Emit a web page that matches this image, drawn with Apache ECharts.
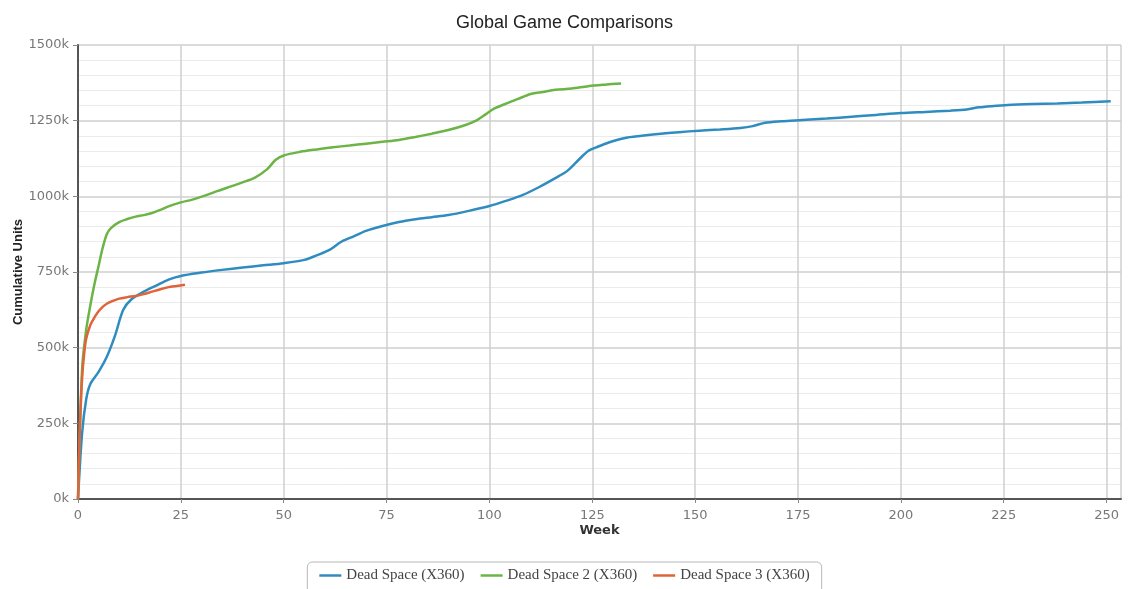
<!DOCTYPE html>
<html>
<head>
<meta charset="utf-8">
<script src="https://cdn.jsdelivr.net/npm/echarts@6/dist/echarts.min.js"></script>
<style>html,body{margin:0;padding:0;background:#fff}#c{width:1129px;height:589px}</style>
</head>
<body>
<div id="c"></div>
<script>
// Dead Space (X360) — weeks and cumulative units (thousands)
var ds1Weeks = [0,1,2,3,5,7,9,11,13,16,19,22,25,30,35,40,45,50,55,58,61,64,67,70,74,78,82,86,90,95,100,104,108,112,116,119,122,124,126,129,133,137,141,146,151,156,161,164,167,171,176,182,188,194,200,206,212,216,219,222,226,232,238,244,251];
var ds1Values = [0,218,330,380,420,470,540,625,660,685,705,725,737,748,757,765,772,779,790,805,822,850,868,886,902,915,924,931,938,952,968,985,1004,1030,1060,1085,1125,1150,1162,1178,1193,1200,1206,1212,1217,1221,1226,1232,1243,1248,1252,1257,1263,1269,1275,1279,1283,1287,1294,1298,1302,1305,1307,1310,1314];
// Dead Space 2 (X360)
var ds2Weeks = [0,1,2,3,4,5,6,7,8,10,12,14,16,18,20,22,25,28,31,34,37,40,43,46,48,50,54,58,62,66,70,74,78,82,86,90,94,97,99,101,104,107,110,113,116,120,124,128,132];
var ds2Values = [0,430,560,640,710,770,830,875,895,915,925,933,938,945,955,967,980,990,1003,1018,1032,1046,1062,1090,1120,1135,1147,1155,1162,1168,1174,1180,1186,1196,1207,1219,1235,1252,1270,1289,1306,1322,1338,1345,1352,1356,1364,1369,1373];
// Dead Space 3 (X360)
var ds3Weeks = [0,0.5,1,1.5,2,3,4,5,6,7,8,10,12,14,16,18,20,22,24,26];
var ds3Values = [0,250,400,480,530,575,600,620,635,645,652,662,667,671,677,685,693,700,704,708];

var seriesNames = ['Dead Space (X360)', 'Dead Space 2 (X360)', 'Dead Space 3 (X360)'];
var seriesColors = ['#2f8cc0', '#6cb446', '#e0643a'];

function pairs(w, v) { return w.map(function (x, i) { return [x, v[i]]; }); }
var allData = [pairs(ds1Weeks, ds1Values), pairs(ds2Weeks, ds2Values), pairs(ds3Weeks, ds3Values)];

var chart = echarts.init(document.getElementById('c'), null, { renderer: 'canvas' });
chart.setOption({
  animation: false,
  backgroundColor: '#ffffff',
  color: seriesColors,
  title: {
    text: 'Global Game Comparisons',
    left: 'center',
    top: 9,
    textStyle: { fontFamily: 'Liberation Sans', fontSize: 18, fontWeight: 'normal', color: '#222' }
  },
  legend: {
    top: 562,
    left: 'center',
    data: seriesNames,
    itemWidth: 22,
    itemHeight: 14,
    itemGap: 16,
    padding: [6, 12, 12, 12],
    borderColor: '#b8b8b8',
    borderWidth: 1,
    borderRadius: 5,
    icon: 'path://M0,6 L22,6 L22,8.5 L0,8.5 Z',
    textStyle: { fontFamily: 'Liberation Serif', fontSize: 15, color: '#444' }
  },
  grid: { left: 78, right: 8, top: 45, bottom: 90, containLabel: false, outerBoundsMode: 'none' },
  xAxis: {
    type: 'value',
    min: 0,
    max: 253.5,
    interval: 25,
    name: 'Week',
    nameLocation: 'middle',
    nameGap: 25,
    nameMoveOverlap: false,
    nameTextStyle: { fontFamily: 'DejaVu Sans', fontSize: 13, fontWeight: 'bold', color: '#333' },
    axisLine: { show: true, lineStyle: { color: '#555', width: 2 } },
    axisTick: { show: true, length: 4, lineStyle: { color: '#888' } },
    axisLabel: { showMaxLabel: false, margin: 10, fontFamily: 'DejaVu Sans', fontSize: 13, color: '#777' },
    splitLine: { show: true, lineStyle: { color: '#cfcfcf', width: 1.5 } }
  },
  yAxis: {
    type: 'value',
    min: 0,
    max: 1500,
    interval: 250,
    name: 'Cumulative Units',
    nameLocation: 'middle',
    nameGap: 53,
    nameMoveOverlap: false,
    nameTextStyle: { fontFamily: 'Liberation Sans', fontSize: 13, fontWeight: 'bold', color: '#222' },
    axisLine: { show: true, lineStyle: { color: '#555', width: 2 } },
    axisTick: { show: true, length: 5, lineStyle: { color: '#888' } },
    axisLabel: { formatter: function (v) { return v + 'k'; }, margin: 9, fontFamily: 'DejaVu Sans', fontSize: 13, color: '#777' },
    splitLine: { show: true, lineStyle: { color: '#cfcfcf', width: 1.5 } },
    minorTick: { show: false, splitNumber: 5 },
    minorSplitLine: { show: true, lineStyle: { color: '#ebebeb', width: 1 } }
  },
  series: seriesNames.map(function (name, i) {
    return {
      name: name,
      type: 'line',
      data: allData[i],
      smooth: 0.3,
      showSymbol: false,
      symbol: 'none',
      lineStyle: { width: 2.5, color: seriesColors[i] },
      itemStyle: { color: seriesColors[i] },
      z: i === 2 ? 4 : 3
    };
  })
});
</script>
</body>
</html>
